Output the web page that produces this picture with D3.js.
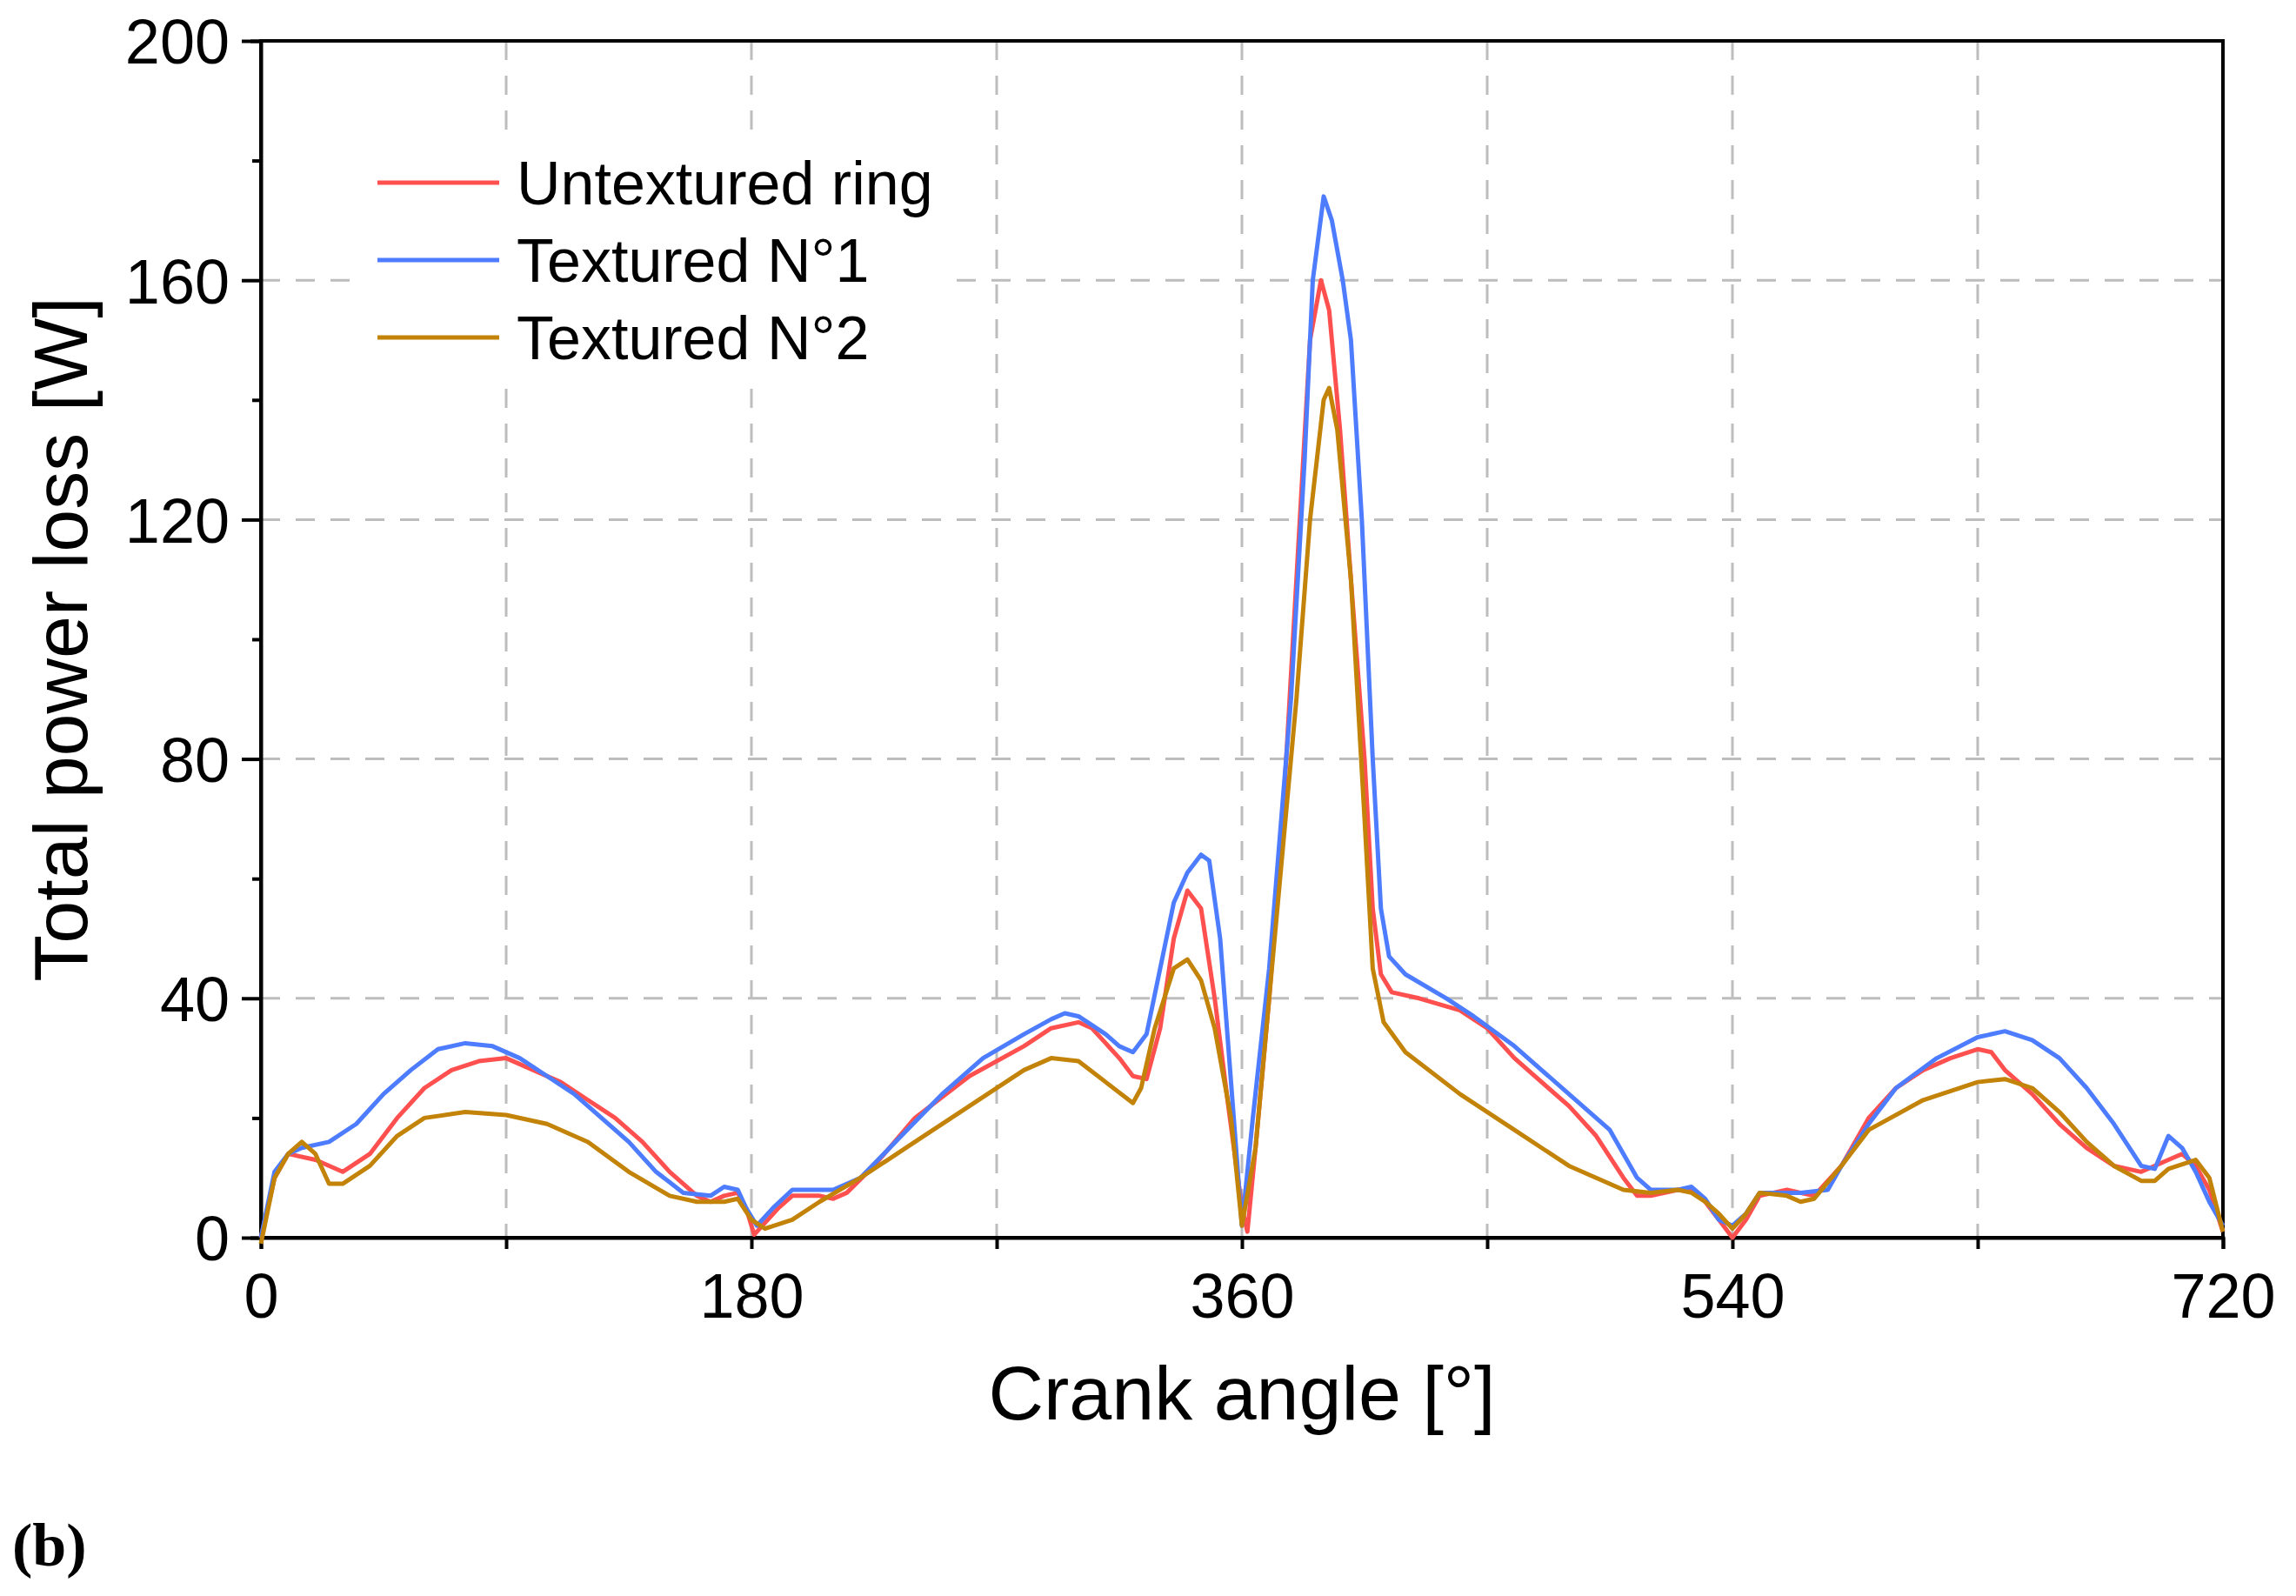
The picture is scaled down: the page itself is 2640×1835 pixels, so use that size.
<!DOCTYPE html>
<html><head><meta charset="utf-8">
<script src="https://cdn.jsdelivr.net/npm/d3@7"></script>
<style>body{margin:0;background:#fff;} text{font-family:Arial,"Liberation Sans",sans-serif;}</style>
</head><body><div id="chart"></div>
<script>
// crank angle [deg], power loss [W]
var untextured = [[0,0],[5,10],[10,14],[20,13],[30,11],[40,14],[50,20],[60,25],[70,28],[80,29.5],[90,30],[100,28],[110,26],[120,23],[130,20],[140,16],[150,11],[160,7],[165,6],[170,7],[175,7.5],[178,5],[181,0.5],[190,5],[195,7],[205,7],[210,6.5],[215,7.5],[225,12],[240,20],[260,27],[280,32],[290,35],[300,36],[305,35],[315,30],[320,27],[325,26.5],[330,35],[335,50],[340,58],[345,55],[350,40],[355,22],[360,5],[362,1],[365,15],[370,40],[375,70],[380,110],[385,150],[389,160],[392,155],[396,135],[400,110],[405,80],[408,55],[411,44],[415,41],[425,40],[440,38],[450,35],[460,30],[480,22],[490,17],[500,10],[505,7],[510,7],[520,8],[525,8],[530,6],[535,3],[540,0],[545,3],[550,7],[560,8],[570,7],[580,12],[590,20],[600,25],[610,28],[620,30],[630,31.5],[635,31],[640,28],[650,24],[660,19],[670,15],[680,12],[690,11],[700,13],[705,14],[710,12],[715,8],[720,1]];
var textured1 = [[0,0],[5,11],[10,14],[15,15],[25,16],[35,19],[45,24],[55,28],[65,31.5],[75,32.5],[85,32],[95,30],[105,27],[115,24],[125,20],[135,16],[145,11],[155,7.5],[165,7],[170,8.5],[175,8],[178,5],[182,2],[188,5],[195,8],[210,8],[220,10],[235,17],[250,24],[265,30],[280,34],[290,36.5],[295,37.5],[300,37],[310,34],[315,32],[320,31],[325,34],[330,45],[335,56],[340,61],[345,64],[348,63],[352,50],[357,20],[360,2],[364,20],[370,45],[378,90],[383,130],[386,160],[390,174],[393,170],[397,160],[400,150],[404,120],[408,80],[411,55],[414,47],[420,44],[435,40],[445,37],[460,32],[480,24],[495,18],[505,10],[510,8],[520,8],[525,8.5],[530,6.5],[535,3],[540,2],[545,4],[550,7.5],[565,7.5],[575,8],[580,12],[590,19],[600,25],[615,30],[630,33.5],[640,34.5],[650,33],[660,30],[670,25],[680,19],[690,12],[695,11.5],[700,17],[705,15],[710,11],[715,6],[720,2]];
var textured2 = [[0,-1],[5,10],[10,14],[15,16],[20,14],[25,9],[30,9],[40,12],[50,17],[60,20],[75,21],[90,20.5],[105,19],[120,16],[135,11],[150,7],[160,6],[170,6],[175,6.5],[180,3],[185,1.5],[195,3],[205,6],[220,10],[240,16],[260,22],[280,28],[290,30],[300,29.5],[310,26],[320,22.5],[323,25],[328,35],[335,45],[340,46.5],[345,43],[350,35],[356,20],[360,2],[365,15],[370,40],[380,90],[385,120],[390,140],[392,142],[395,135],[400,110],[405,70],[408,45],[412,36],[420,31],[440,24],[460,18],[480,12],[500,8],[510,7.5],[520,8],[525,7.5],[530,6],[535,4],[540,1.5],[545,4],[550,7.5],[560,7],[565,6],[570,6.5],[580,12],[590,18],[610,23],[630,26],[640,26.5],[650,25],[660,21],[670,16],[680,12],[690,9.5],[695,9.5],[700,11.5],[710,13],[715,10],[720,1]];
var seriesNames = ["Untextured ring","Textured N\u00b01","Textured N\u00b02"];
var seriesColors = ["#ff5050","#4d7cff","#c28308"];
var xTicks = [0,180,360,540,720];
var yTicks = [0,40,80,120,160,200];

function draw() {
  var W = 2640, H = 1835;
  var mLeft = 300, mRight = 2556, mTop = 47, mBottom = 1423;

  var svg = d3.select("#chart").append("svg").attr("width",W).attr("height",H);
  var x = d3.scaleLinear().domain([0,720]).range([mLeft,mRight]);
  var y = d3.scaleLinear().domain([0,200]).range([mBottom,mTop]);

  // grid
  svg.append("g").selectAll("line").data(d3.range(90,720,90)).enter().append("line")
    .attr("x1",d=>x(d)).attr("x2",d=>x(d)).attr("y1",mTop).attr("y2",mBottom)
    .attr("stroke","#bdbdbd").attr("stroke-width",3).attr("stroke-dasharray","22,18");
  svg.append("g").selectAll("line").data([40,80,120,160]).enter().append("line")
    .attr("x1",mLeft).attr("x2",mRight).attr("y1",d=>y(d)).attr("y2",d=>y(d))
    .attr("stroke","#bdbdbd").attr("stroke-width",3).attr("stroke-dasharray","22,18");

  // legend background hides grid
  svg.append("rect").attr("x",415).attr("y",160).attr("width",680).attr("height",280).attr("fill","#fff");

  // frame
  svg.append("rect").attr("x",mLeft).attr("y",mTop).attr("width",mRight-mLeft).attr("height",mBottom-mTop)
    .attr("fill","none").attr("stroke","#000").attr("stroke-width",4);

  // axes
  var xAxis = svg.append("g").attr("transform","translate(0,"+mBottom+")")
    .call(d3.axisBottom(x).tickValues(d3.range(0,721,90)).tickSize(13).tickFormat(d=>xTicks.indexOf(d)>=0?d:""));
  var yAxis = svg.append("g").attr("transform","translate("+mLeft+",0)")
    .call(d3.axisLeft(y).tickValues(d3.range(0,201,20)).tickSize(12).tickFormat(d=>yTicks.indexOf(d)>=0?d:""));
  [xAxis,yAxis].forEach(function(a){
    a.select(".domain").attr("stroke-width",4);
    a.selectAll(".tick line").attr("stroke-width",4);
    a.selectAll(".tick text").attr("font-size",72).attr("font-family","Arial,'Liberation Sans',sans-serif").attr("fill","#000");
  });
  xAxis.selectAll(".tick text").attr("dy","1.05em");
  yAxis.selectAll(".tick text").attr("x",-36).attr("dy","0.36em");
  yAxis.selectAll(".tick line").attr("x2",d=>yTicks.indexOf(d)>=0?-22:-10);

  // lines
  var line = d3.line().x(d=>x(d[0])).y(d=>y(d[1]));
  [untextured,textured1,textured2].forEach(function(s,i){
    svg.append("path").datum(s).attr("d",line).attr("fill","none")
      .attr("stroke",seriesColors[i]).attr("stroke-width",5).attr("stroke-linejoin","round");
  });

  // legend
  var lg = svg.append("g").selectAll("g").data(seriesNames).enter().append("g")
    .attr("transform",(d,i)=>"translate(434,"+(210+i*89)+")");
  lg.append("line").attr("x1",0).attr("x2",140).attr("stroke",(d,i)=>seriesColors[i]).attr("stroke-width",5);
  lg.append("text").attr("x",160).attr("dy","0.35em").attr("font-size",70).text(d=>d);

  // titles
  svg.append("text").attr("x",(mLeft+mRight)/2).attr("y",1632).attr("text-anchor","middle")
    .attr("font-size",88).text("Crank angle [\u00b0]");
  svg.append("text").attr("transform","translate(100,"+(mTop+mBottom)/2+") rotate(-90)").attr("text-anchor","middle")
    .attr("font-size",88).text("Total power loss [W]");
  svg.append("text").attr("x",14).attr("y",1800).attr("font-size",70).attr("font-weight","bold")
    .style("font-family","'Liberation Serif','DejaVu Serif',serif").text("(b)");
}
draw();
</script></body></html>
